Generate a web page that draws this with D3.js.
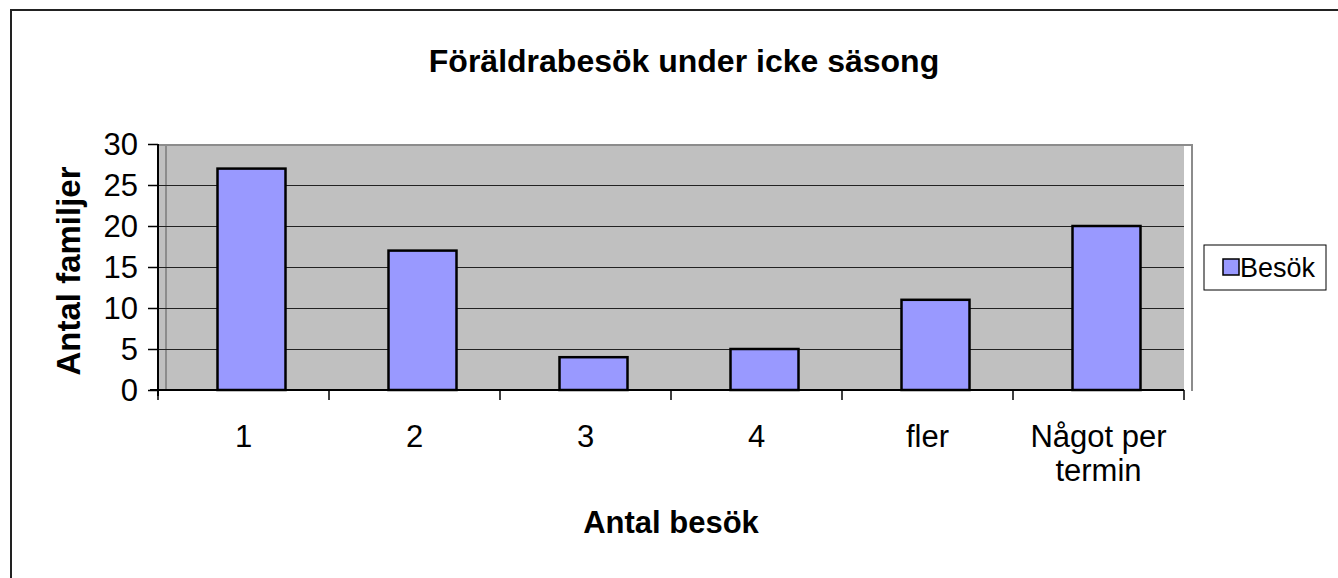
<!DOCTYPE html>
<html>
<head>
<meta charset="utf-8">
<script src="https://cdn.jsdelivr.net/npm/d3@7"></script>
<style>
  body { margin: 0; background: #fff; }
  text { font-family: "Liberation Sans", Arial, sans-serif; }
</style>
</head>
<body>
<div id="chart"></div>
<script>
// Data
const categories = ["1", "2", "3", "4", "fler", "Något per termin"];
const besok = [27, 17, 4, 5, 11, 20];
const yTicks = [0, 5, 10, 15, 20, 25, 30];
const seriesName = "Besök";

const W = 1338, H = 578;
const plot = { left: 158, right: 1184, top: 144, bottom: 390 };
const depth = 8; // offset of the back wall

const svg = d3.select("#chart").append("svg")
  .attr("width", W).attr("height", H);

// outer chart border
svg.append("rect")
  .attr("x", 11).attr("y", 10)
  .attr("width", W + 20).attr("height", H + 20)
  .attr("fill", "#fff").attr("stroke", "#222").attr("stroke-width", 2);

const x = d3.scaleBand().domain(categories).range([plot.left, plot.right]);
const y = d3.scaleLinear().domain([0, 30]).range([plot.bottom, plot.top]);

// plot area
svg.append("rect")
  .attr("x", plot.left).attr("y", plot.top)
  .attr("width", plot.right - plot.left).attr("height", plot.bottom - plot.top)
  .attr("fill", "#c0c0c0");
svg.append("rect")
  .attr("x", plot.right).attr("y", plot.top + 1)
  .attr("width", depth).attr("height", plot.bottom - plot.top)
  .attr("fill", "#fff");
svg.append("path")
  .attr("d", `M${plot.left},${plot.top + 1}H${plot.right + depth}V${plot.bottom + 1}`)
  .attr("fill", "none").attr("stroke", "#8c8c8c").attr("stroke-width", 2);
svg.append("line")
  .attr("x1", plot.left + depth).attr("x2", plot.left + depth)
  .attr("y1", plot.top).attr("y2", plot.bottom)
  .attr("stroke", "#8c8c8c").attr("stroke-width", 2);

// gridlines
svg.append("g").selectAll("line")
  .data(yTicks.filter(d => d > 0 && d < 30))
  .enter().append("line")
  .attr("x1", plot.left).attr("x2", plot.right)
  .attr("y1", d => Math.round(y(d)) + 0.5).attr("y2", d => Math.round(y(d)) + 0.5)
  .attr("stroke", "#222").attr("stroke-width", 1.2);

// bars
svg.append("g").selectAll("rect")
  .data(besok)
  .enter().append("rect")
  .attr("x", (d, i) => x(categories[i]) + x.bandwidth() / 2 - 34 + depth)
  .attr("width", 68)
  .attr("y", d => y(d))
  .attr("height", d => y(0) - y(d))
  .attr("fill", "#9999ff").attr("stroke", "#000").attr("stroke-width", 2.5);

// y axis
const yAxis = svg.append("g")
  .attr("transform", `translate(${plot.left},0)`)
  .call(d3.axisLeft(y).tickValues(yTicks).tickSize(10).tickPadding(10));
yAxis.select(".domain").attr("stroke", "#000").attr("stroke-width", 2)
  .attr("d", `M0,${plot.top}V${plot.bottom + 6}`);
yAxis.selectAll(".tick line").attr("stroke", "#000").attr("stroke-width", 1.5);
yAxis.selectAll("text").attr("font-size", 31).attr("fill", "#000")
  .attr("dy", "0.35em")
  .attr("font-family", "Liberation Sans, Arial, sans-serif");

// x axis
const xTickPos = categories.map(c => x(c)).concat([plot.right]);
const xAxis = svg.append("g");
xAxis.append("line")
  .attr("x1", plot.left - 8).attr("x2", plot.right)
  .attr("y1", plot.bottom).attr("y2", plot.bottom)
  .attr("stroke", "#000").attr("stroke-width", 2);
xAxis.selectAll(".xt").data(xTickPos).enter().append("line")
  .attr("x1", d => d).attr("x2", d => d)
  .attr("y1", plot.bottom).attr("y2", plot.bottom + 10)
  .attr("stroke", "#000").attr("stroke-width", 1.5);

// category labels (wrap last one)
const labelLines = { "Något per termin": ["Något per", "termin"] };
categories.forEach(c => {
  const lines = labelLines[c] || [c];
  const t = svg.append("text")
    .attr("x", x(c) + x.bandwidth() / 2)
    .attr("y", 447)
    .attr("text-anchor", "middle")
    .attr("font-size", 31);
  lines.forEach((l, i) => {
    t.append("tspan").attr("x", x(c) + x.bandwidth() / 2)
      .attr("dy", i === 0 ? 0 : 34).text(l);
  });
});

// titles
svg.append("text")
  .attr("x", 684).attr("y", 72)
  .attr("text-anchor", "middle").attr("font-size", 32).attr("font-weight", "bold")
  .text("Föräldrabesök under icke säsong");
svg.append("text")
  .attr("x", 671).attr("y", 533)
  .attr("text-anchor", "middle").attr("font-size", 31).attr("font-weight", "bold")
  .text("Antal besök");
svg.append("text")
  .attr("transform", `translate(80,${(plot.top + plot.bottom) / 2 + 4}) rotate(-90)`)
  .attr("text-anchor", "middle").attr("font-size", 33).attr("font-weight", "bold")
  .text("Antal familjer");

// legend
const lg = svg.append("g");
lg.append("rect")
  .attr("x", 1204).attr("y", 245).attr("width", 122).attr("height", 45)
  .attr("fill", "#fff").attr("stroke", "#000").attr("stroke-width", 1);
lg.append("rect")
  .attr("x", 1223).attr("y", 259).attr("width", 16).attr("height", 16)
  .attr("fill", "#9999ff").attr("stroke", "#000").attr("stroke-width", 1.5);
lg.append("text")
  .attr("x", 1240).attr("y", 277).attr("font-size", 27)
  .text(seriesName);
</script>
</body>
</html>
